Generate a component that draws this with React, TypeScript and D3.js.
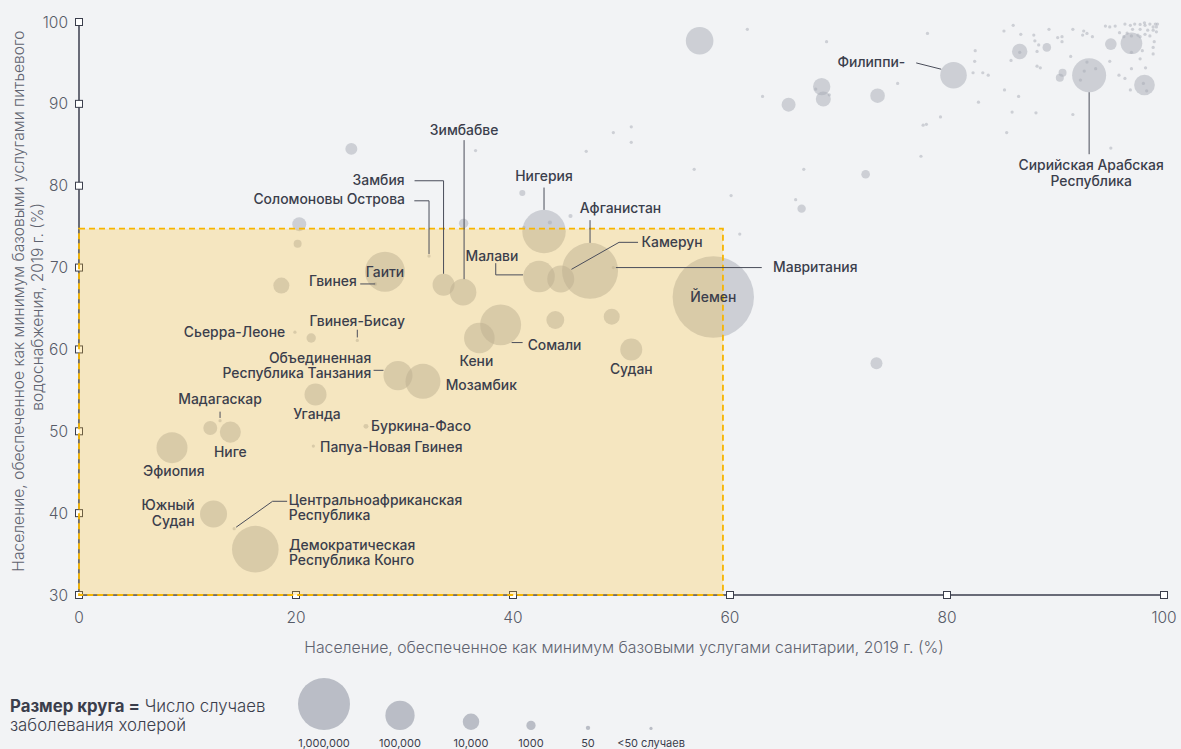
import React from "react";
import * as d3 from "d3";

// labelled countries: sanitation %, drinking water %, cholera cases
const countryNames = [
  "Йемен", "Афганистан", "Нигерия", "Демократическая Республика Конго", "Сомали",
  "Гаити", "Мозамбик", "Малави", "Эфиопия", "Кения",
  "Объединенная Республика Танзания", "Камерун", "Южный Судан", "Зимбабве", "Филиппины",
  "Замбия", "Уганда", "Судан", "Нигер", "Сирийская Арабская Республика",
  "Мавритания", "Соломоновы Острова", "Гвинея", "Гвинея-Бисау", "Сьерра-Леоне",
  "Мадагаскар", "Буркина-Фасо", "Папуа-Новая Гвинея", "Центральноафриканская Республика",
];
const countrySanitation = [
  58.46, 47.1, 42.86, 16.25, 38.86, 28.2, 31.7, 42.4, 8.57, 36.9,
  29.4, 44.4, 12.4, 35.4, 80.6, 33.6, 21.8, 50.9, 13.95, 93.1,
  49.25, 32.26, 27.3, 25.65, 19.9, 13.0, 26.45, 21.6, 14.3,
];
const countryWater = [
  66.4, 69.6, 74.4, 35.6, 63.0, 69.5, 56.1, 68.9, 48.0, 61.4,
  56.8, 68.6, 39.9, 67.0, 93.5, 67.9, 54.5, 60.0, 49.9, 93.5,
  70.0, 71.4, 68.0, 61.1, 62.1, 51.3, 50.6, 48.2, 38.1,
];
const countryCases = [
  6000000, 1350000, 486000, 645000, 386000, 350000, 205000, 136000, 126000, 120000,
  97000, 73000, 73000, 68000, 68000, 32000, 32000, 32000, 27000, 183000,
  15, 15, 25, 15, 15, 15, 85, 15, 15,
];
// label text as printed on the chart
const countryLabels = [
  ["Йемен"], ["Афганистан"], ["Нигерия"], ["Демократическая", "Республика Конго"], ["Сомали"],
  ["Гаити"], ["Мозамбик"], ["Малави"], ["Эфиопия"], ["Кени"],
  ["Объединенная", "Республика Танзания"], ["Камерун"], ["Южный", "Судан"], ["Зимбабве"], ["Филиппи-"],
  ["Замбия"], ["Уганда"], ["Судан"], ["Ниге"], ["Сирийская Арабская", "Республика"],
  ["Мавритания"], ["Соломоновы Острова"], ["Гвинея"], ["Гвинея-Бисау"], ["Сьерра-Леоне"],
  ["Мадагаскар"], ["Буркина-Фасо"], ["Папуа-Новая Гвинея"], ["Центральноафриканская", "Республика"],
];

// other countries (unlabelled)
const otherSanitation = [
  57.2, 43.9, 49.1, 18.65, 68.45, 68.6, 65.4, 73.6, 20.3, 12.1,
  25.1, 73.5, 86.7, 97.0, 98.2, 95.1, 89.2, 90.65, 90.4, 35.45,
  20.15, 21.4, 72.5, 66.6, 40.86, 45.3, 43.4,
];
const otherWater = [
  97.7, 63.6, 64.0, 67.8, 92.1, 90.6, 89.9, 91.0, 75.3, 50.4,
  84.5, 58.3, 96.4, 97.4, 92.3, 97.3, 96.9, 93.8, 93.2, 75.4,
  72.9, 61.4, 81.4, 77.2, 79.1, 76.3, 75.5,
];
const otherCases = [
  79000, 14000, 9000, 9000, 12500, 6900, 5200, 6200, 5200, 5200,
  2800, 2800, 7700, 30000, 25000, 2500, 750, 560, 560, 1070,
  560, 1070, 750, 680, 180, 40, 40,
];

// countries with fewer than 50 cases
const smallSanitation = [
  85.25, 86.1, 86.8, 88.0, 89.4, 88.1, 88.45, 88.3, 85.9, 90.2,
  90.6, 90.6, 91.6, 92.6, 92.9, 92.5, 93.4, 94.6, 95.0, 95.5,
  95.9, 99.1, 99.0, 99.0, 98.0, 97.8, 95.0, 91.4, 88.3, 88.6,
  83.3, 83.8, 97.0, 98.3, 95.85, 96.4, 96.9, 85.3, 86.6, 86.0,
  88.2, 91.6, 95.1, 92.9, 92.65, 93.7, 92.3, 97.0, 97.0, 98.1,
  98.4, 86.7, 96.4, 96.9, 97.3, 97.8, 98.25, 98.7, 99.2, 99.3,
  99.0, 98.5, 97.8, 97.1, 98.25, 98.7, 99.3, 96.6, 97.6, 99.0,
  99.4, 98.2, 97.8, 96.3, 82.6, 82.55, 82.4, 82.9, 79.4, 77.8,
  78.1, 77.6, 78.2, 75.45, 85.5, 68.9, 61.6, 63.0, 67.9, 69.15,
  66.8, 66.05, 60.1, 56.7, 60.9, 49.25, 50.9, 50.9, 46.75, 36.55,
  41.0,
];
const smallWater = [
  98.9, 99.6, 98.5, 98.4, 99.1, 97.7, 97.2, 96.4, 95.3, 98.1,
  98.2, 97.6, 99.1, 98.9, 98.6, 98.4, 98.2, 99.5, 99.4, 99.5,
  98.7, 97.6, 96.9, 96.1, 96.5, 95.5, 95.2, 95.8, 94.6, 94.4,
  93.8, 93.5, 94.3, 94.4, 93.5, 93.1, 91.7, 91.7, 90.9, 89.0,
  88.9, 88.7, 84.6, 95.1, 94.0, 94.3, 92.9, 98.3, 96.3, 92.5,
  91.6, 96.3, 99.75, 99.6, 99.75, 99.7, 99.6, 99.75, 99.75, 99.4,
  99.0, 99.0, 99.1, 99.1, 98.5, 98.3, 98.8, 98.65, 98.4, 99.4,
  99.75, 99.9, 98.2, 98.2, 96.5, 95.2, 93.8, 90.2, 88.4, 87.4,
  87.5, 83.6, 98.6, 92.5, 86.5, 97.6, 99.1, 90.9, 91.8, 91.1,
  82.0, 78.3, 78.8, 82.0, 74.1, 86.5, 87.2, 85.3, 84.2, 84.3,
  74.9,
];

const highlightX = [0, 59.35];
const highlightY = [30, 74.75];

const xTicks = [0, 20, 40, 60, 80, 100];
const yTicks = [30, 40, 50, 60, 70, 80, 90, 100];

const legendCases = [1000000, 100000, 10000, 1000, 50, 15];
const legendLabels = ["1,000,000", "100,000", "10,000", "1000", "50", "<50 случаев"];

// label placement relative to bubble centre (px)
type Lay = { dx: number; dy: number[]; anchor: string; lead?: number[][] };
const labelLayout: Lay[] = [
  { dx: 0, dy: [5], anchor: "middle" },
  { dx: 30.5, dy: [-57.4], anchor: "middle", lead: [[0, -50.7], [0, -28]] },
  { dx: 0, dy: [-50.7], anchor: "middle", lead: [[0, -44], [0, -21.7]] },
  { dx: 33.7, dy: [0.5, 16], anchor: "start" },
  { dx: 27, dy: [25], anchor: "start", lead: [[11, 17.7], [22, 17.7]] },
  { dx: 0, dy: [5], anchor: "middle" },
  { dx: 22.7, dy: [8.3], anchor: "start" },
  { dx: -20.7, dy: [-16], anchor: "end", lead: [[-43.3, -13.4], [-43.3, -1.7], [-16, -1.7]] },
  { dx: 1.8, dy: [28.4], anchor: "middle" },
  { dx: -3, dy: [28.4], anchor: "middle" },
  { dx: -26.7, dy: [-12.7, 2.7], anchor: "end", lead: [[-24.4, -5.3], [-14.5, -5.3]] },
  { dx: 80.7, dy: [-32.3], anchor: "start", lead: [[77.3, -36.7], [58.3, -36.7], [10.7, -9.7]] },
  { dx: -19, dy: [-3.6, 11.6], anchor: "end" },
  { dx: 1, dy: [-157], anchor: "middle", lead: [[1, -152], [1, -13]] },
  { dx: -48.3, dy: [-8.3], anchor: "end", lead: [[-37.3, -12.3], [-12.3, -6]] },
  { dx: -39, dy: [-100], anchor: "end", lead: [[-29, -104], [0, -104], [0, -11]] },
  { dx: 1.4, dy: [24.3], anchor: "middle" },
  { dx: 0, dy: [24.3], anchor: "middle" },
  { dx: 0, dy: [24.7], anchor: "middle" },
  { dx: 2, dy: [95, 110.7], anchor: "middle", lead: [[0, 17], [0, 79]] },
  { dx: 159.7, dy: [4.5], anchor: "start", lead: [[2.5, 0], [148.4, 0]] },
  { dx: -24, dy: [-52], anchor: "end", lead: [[-14.7, -55.3], [0, -55.3], [0, -2]] },
  { dx: -18.4, dy: [2.4], anchor: "end", lead: [[-15, 0], [0, 0]] },
  { dx: 0, dy: [-14.7], anchor: "middle", lead: [[0, -10.7], [0, -3]] },
  { dx: -9.7, dy: [4.4], anchor: "end" },
  { dx: 0, dy: [-16.4], anchor: "middle", lead: [[0, -9], [0, -2.7]] },
  { dx: 5, dy: [5], anchor: "start" },
  { dx: 6.7, dy: [5.7], anchor: "start" },
  { dx: 54.7, dy: [-23.7, -8.2], anchor: "start", lead: [[2, -1.5], [38.4, -27.4], [53, -27.4]] },
];

const legendX = [324, 400, 471, 531, 588, 651];

const W = 1181;
const H = 749;
const FONT = "Inter, 'Noto Sans', sans-serif";
const INK = "#3b3e4c";

export default function App() {
  const x = d3.scaleLinear().domain([0, 100]).range([79, 1164]);
  const y = d3.scaleLinear().domain([30, 100]).range([595, 22]);
  const r = d3.scalePow().exponent(0.25).domain([0, 1000000]).range([0, 26]);
  const line = d3.line();

  const bubbles = [
    ...countryCases.map((c, i) => ({ sx: countrySanitation[i], wy: countryWater[i], c })),
    ...otherCases.map((c, i) => ({ sx: otherSanitation[i], wy: otherWater[i], c })),
    ...smallSanitation.map((s, i) => ({ sx: s, wy: smallWater[i], c: 15 })),
  ].sort((a, b) => b.c - a.c);

  return (
    <div style={{ position: "fixed", left: 0, top: 0 }}>
      <svg width={W} height={H} style={{ display: "block" }}>
        <rect width={W} height={H} fill="#f2f3f5" />

        {/* bubbles */}
        <g>
          {bubbles.map((b, i) => (
            <circle key={i} cx={x(b.sx)} cy={y(b.wy)} r={r(b.c)} fill="#a7abb6" fillOpacity={0.5} />
          ))}
        </g>

        {/* axes */}
        <line x1={x(0)} x2={x(0)} y1={y(30)} y2={y(100)} stroke={INK} strokeWidth={1.5} />
        <line x1={x(0)} x2={x(100)} y1={y(30)} y2={y(30)} stroke={INK} strokeWidth={1.5} />
        {yTicks.map((t) => (
          <g key={"y" + t}>
            <rect x={x(0) - 3.5} y={y(t) - 3.5} width={7} height={7} fill="#fff" stroke={INK} strokeWidth={1} />
            <text x={68} y={y(t)} dy="0.36em" textAnchor="end" fontFamily={FONT} fontSize={15.5} fontWeight={300} fill="#575b68">
              {t}
            </text>
          </g>
        ))}
        {xTicks.map((t) => (
          <g key={"x" + t}>
            <rect x={x(t) - 3.5} y={y(30) - 3.5} width={7} height={7} fill="#fff" stroke={INK} strokeWidth={1} />
            <text x={x(t)} y={623} textAnchor="middle" fontFamily={FONT} fontSize={15.5} fontWeight={300} fill="#575b68">
              {t}
            </text>
          </g>
        ))}

        {/* highlight area */}
        <rect
          x={x(highlightX[0])}
          y={y(highlightY[1])}
          width={x(highlightX[1]) - x(highlightX[0])}
          height={y(highlightY[0]) - y(highlightY[1])}
          fill="#ffc125"
          fillOpacity={0.25}
          stroke="#f7b500"
          strokeWidth={1.8}
          strokeDasharray="6 4"
        />

        {/* leader lines and labels */}
        {countryLabels.map((lines, i) => {
          const cx = x(countrySanitation[i]);
          const cy = y(countryWater[i]);
          const lay = labelLayout[i];
          return (
            <g key={"l" + i}>
              {lay.lead && (
                <path
                  d={line(lay.lead.map(([dx, dy]) => [cx + dx, cy + dy] as [number, number])) || ""}
                  fill="none"
                  stroke="#4a4d5a"
                  strokeWidth={1}
                />
              )}
              {lines.map((t, j) => (
                <text
                  key={j}
                  x={cx + lay.dx}
                  y={cy + lay.dy[j]}
                  textAnchor={lay.anchor as any}
                  fontFamily={FONT}
                  fontSize={13.9}
                  fontWeight={500}
                  fill={INK}
                >
                  {t}
                </text>
              ))}
            </g>
          );
        })}

        {/* axis titles */}
        <text x={624} y={653} textAnchor="middle" fontFamily={FONT} fontSize={15.8} fontWeight={300} fill="#5f6370">
          Население, обеспеченное как минимум базовыми услугами санитарии, 2019 г. (%)
        </text>
        <g transform="translate(24,301) rotate(-90)">
          <text x={0} y={0} textAnchor="middle" fontFamily={FONT} fontSize={15.6} fontWeight={300} fill="#5f6370">
            Население, обеспеченное как минимум базовыми услугами питьевого
          </text>
          <text x={-6} y={18.5} textAnchor="middle" fontFamily={FONT} fontSize={15.6} fontWeight={300} fill="#5f6370">
            водоснабжения, 2019 г. (%)
          </text>
        </g>

        {/* size legend */}
        <text x={10} y={712} fontFamily={FONT} fontSize={16.8} fill={INK}>
          <tspan fontWeight={700}>Размер круга =</tspan>
          <tspan fontWeight={300}> Число случаев</tspan>
        </text>
        <text x={10} y={731} fontFamily={FONT} fontSize={16.8} fontWeight={300} fill={INK}>
          заболевания холерой
        </text>
        {legendCases.map((c, i) => (
          <g key={"lg" + i}>
            <circle cx={legendX[i]} cy={730 - r(c)} r={r(c)} fill="#a7abb6" fillOpacity={0.75} />
            <text x={legendX[i]} y={747} textAnchor="middle" fontFamily={FONT} fontSize={11} fontWeight={400} fill={INK}>
              {legendLabels[i]}
            </text>
          </g>
        ))}
      </svg>
    </div>
  );
}
